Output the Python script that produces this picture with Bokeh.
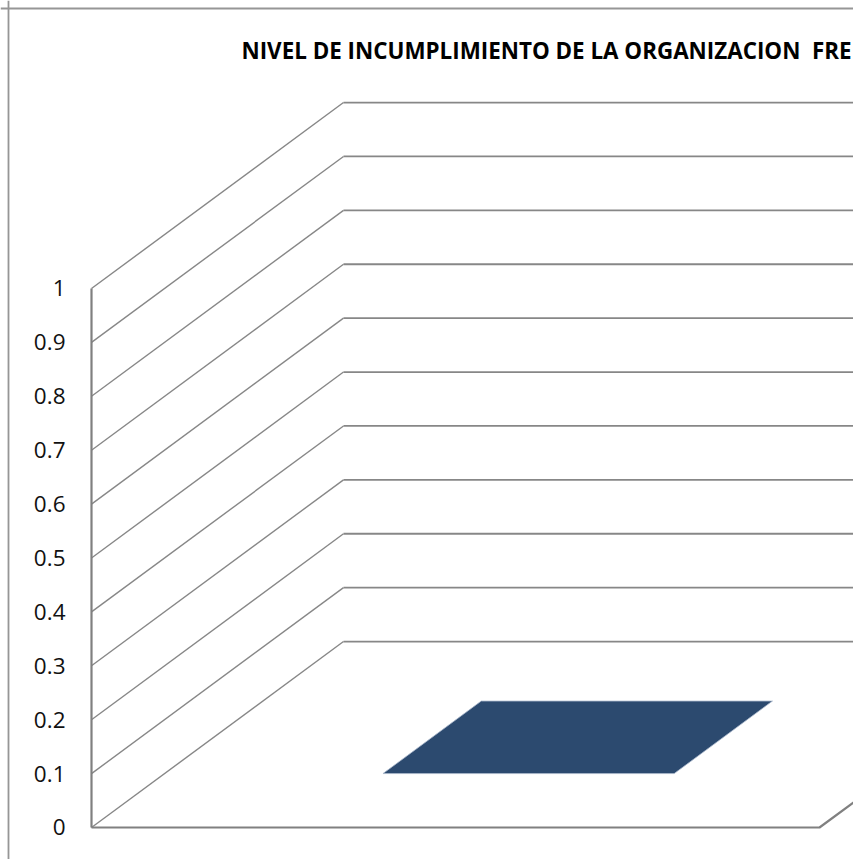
from bokeh.plotting import figure
from bokeh.models import Range1d, Span, ColumnDataSource
from bokeh.core.properties import value
from bokeh.embed import file_html
from bokeh.resources import INLINE

# ---- data ----
title_text = "NIVEL DE INCUMPLIMIENTO DE LA ORGANIZACION \u00a0FRE"
categories = [""]
values = [0.0]
y_ticks = [0, 0.1, 0.2, 0.3, 0.4, 0.5, 0.6, 0.7, 0.8, 0.9, 1]
y_tick_labels = ["0", "0.1", "0.2", "0.3", "0.4", "0.5", "0.6", "0.7", "0.8", "0.9", "1"]

# ---- 3D projection parameters (layout) ----
CAT_W = 728.0      # px width of one category on the front plane
DX = 252.0         # px horizontal shift of full depth
DV = 0.345         # value-units vertical shift of full depth
BAR_X0, BAR_X1 = 0.30, 0.70   # bar extent within category
BAR_D0, BAR_D1 = 0.29, 0.68   # bar extent in depth


def proj(cx, v, d):
    return cx * CAT_W + d * DX, v + d * DV


p = figure(width=853, height=859, output_backend="svg", toolbar_location=None,
           x_range=Range1d(-91, 762), y_range=Range1d(-0.05937, 1.53432),
           min_border=0)
p.axis.visible = False
p.grid.visible = False
p.outline_line_color = None
p.background_fill_color = "white"
p.border_fill_color = "white"

grid_col = "#878787"
n_cat = len(categories)
ymax = max(y_ticks)

# back wall horizontal gridlines and left wall diagonals
gx0, gy0, gx1, gy1 = [], [], [], []
dx0, dy0, dx1, dy1 = [], [], [], []
for t in y_ticks:
    if t == 0:
        continue
    a = proj(0, t, 0)
    b = proj(0, t, 1)
    c = proj(n_cat, t, 1)
    dx0.append(a[0]); dy0.append(a[1]); dx1.append(b[0]); dy1.append(b[1])
    gx0.append(b[0]); gy0.append(b[1]); gx1.append(c[0]); gy1.append(c[1])
p.segment(gx0, gy0, gx1, gy1, line_color=grid_col, line_width=1.8)
p.segment(dx0, dy0, dx1, dy1, line_color=grid_col, line_width=1.4)

# floor
f0 = proj(0, 0, 0)
f1 = proj(n_cat, 0, 0)
f2 = proj(n_cat, 0, 1)
f3 = proj(0, 0, 1)
p.line([f3[0], f2[0]], [f3[1], f2[1]], line_color=grid_col, line_width=1.8)
p.line([f3[0], f0[0]], [f3[1], f0[1]], line_color=grid_col, line_width=1.4)
p.line([f0[0], f1[0], f2[0]], [f0[1], f1[1], f2[1]], line_color="#808080", line_width=2.2)

# left wall vertical axis line
a0 = proj(0, 0, 0)
a1 = proj(0, ymax, 0)
p.line([a0[0], a1[0]], [a0[1], a1[1]], line_color="#808080", line_width=2.2)

# bars (top face, plus front face when value > 0)
for i, v in enumerate(values):
    c0 = i + BAR_X0
    c1 = i + BAR_X1
    pts = [proj(c0, v, BAR_D0), proj(c1, v, BAR_D0), proj(c1, v, BAR_D1), proj(c0, v, BAR_D1)]
    p.patch([q[0] for q in pts], [q[1] for q in pts], fill_color="#2c4a6f",
            line_color="#a9b7cc", line_width=0.8)
    if v > 0:
        fr = [proj(c0, 0, BAR_D0), proj(c1, 0, BAR_D0), proj(c1, v, BAR_D0), proj(c0, v, BAR_D0)]
        p.patch([q[0] for q in fr], [q[1] for q in fr], fill_color="#2c4a6f",
                line_color="#a9b7cc", line_width=0.8)

# tick labels
src = ColumnDataSource(dict(x=[-26] * len(y_ticks), y=y_ticks, t=y_tick_labels))
p.text(x="x", y="y", text="t", source=src, text_align="right", text_baseline="middle",
       text_font=value("Open Sans"), text_font_size="22.5px", text_color="#111111")

# title
p.text(x=[150], y=[1.4416], text=[title_text], text_align="left", text_baseline="alphabetic",
       text_font=value("Open Sans"), text_font_style="bold", text_font_size="22.4px",
       text_color="#000000")

# chart border (left & top visible part)
p.add_layout(Span(location=-83, dimension="height", line_color="#969696", line_width=1.8))
p.add_layout(Span(location=1.5195, dimension="width", line_color="#969696", line_width=1.8))

open("out.html", "w").write(file_html(p, INLINE))
